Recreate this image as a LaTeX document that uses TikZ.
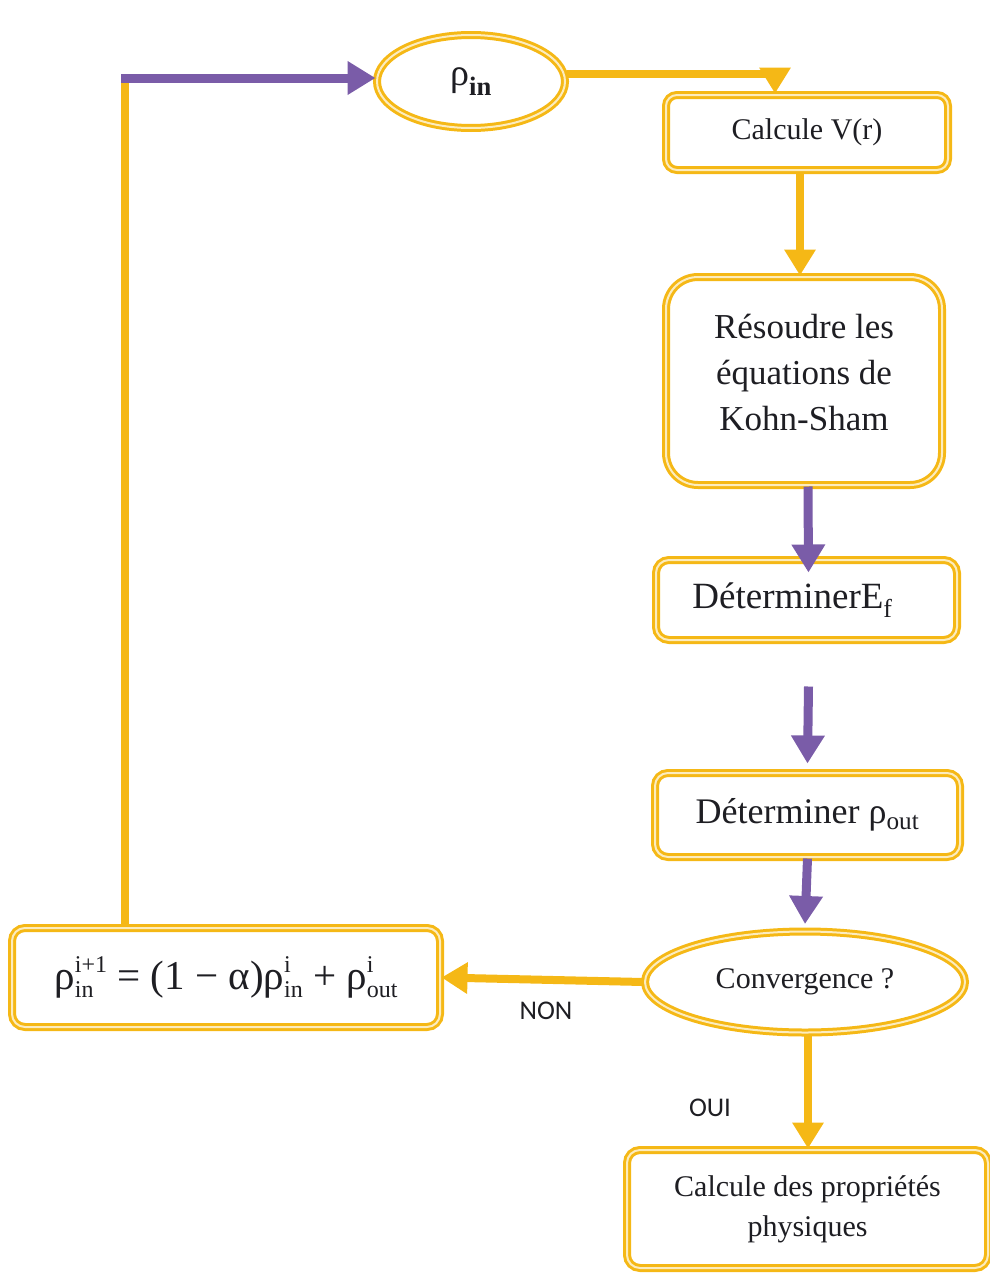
\documentclass[tikz,border=0pt]{standalone}
\usepackage{fontspec}
\setmainfont{Liberation Serif}
\newfontfamily\labelfont{Carlito}
\usetikzlibrary{arrows.meta,shapes.geometric,calc}

\definecolor{gold}{RGB}{245,184,22}
\definecolor{pale}{RGB}{252,236,190}
\definecolor{violet}{RGB}{122,92,168}
\definecolor{ink}{RGB}{30,30,35}

% superscript stacked over subscript, set in text fonts
\newcommand{\ssb}[2]{\begingroup
  \setbox0\hbox{\raisebox{17pt}{\fontsize{24}{24}\selectfont #1}}%
  \setbox2\hbox{\raisebox{-8pt}{\fontsize{24}{24}\selectfont #2}}%
  \ifdim\wd0>\wd2 \rlap{\box2}\box0\else\rlap{\box0}\box2\fi\endgroup}

\tikzset{
  box/.style={draw=gold, line width=3pt, double=pale, double distance=2pt,
    rounded corners=13pt, fill=white, align=center, text=ink, inner sep=0pt},
  oval/.style={box, ellipse},
  gline/.style={draw=gold, line width=8pt},
  garrow/.style={gline, -{Triangle[length=26pt,width=30pt]}},
  parrow/.style={draw=violet, line width=9pt, -{Triangle[length=28pt,width=32pt]}},
  tag/.style={font=\labelfont\fontsize{27}{30}\selectfont, text=ink}
}

\begin{document}
\begin{tikzpicture}[x=1pt,y=-1pt]
  \useasboundingbox (0,0) rectangle (990,1277);

  % steps of the self-consistent cycle
  \node[oval, minimum width=188pt, minimum height=93pt, font=\fontsize{38}{44}\selectfont]
    (rin) at (471,81.5) {ρ\textsubscript{\bfseries in}};
  \node[box, minimum width=282pt, minimum height=75pt, rounded corners=11pt,
        font=\fontsize{30}{34}\selectfont]
    (vr) at (807,132.5) {Calcule V(r)};
  \node[box, minimum width=276pt, minimum height=208pt, rounded corners=32pt,
        font=\fontsize{35}{46}\selectfont]
    (ks) at (804,381) {Résoudre les\\équations de\\Kohn-Sham\\[-28pt]};
  \node[box, minimum width=301pt, minimum height=80pt, font=\fontsize{37}{40}\selectfont]
    (ef) at (806.5,600) {DéterminerE\textsubscript{f}\hspace*{28pt}};
  \node[box, minimum width=305pt, minimum height=84pt, font=\fontsize{36}{40}\selectfont]
    (rout) at (807.5,815) {Déterminer ρ\textsubscript{out}};
  \node[oval, minimum width=320pt, minimum height=101pt, font=\fontsize{30}{34}\selectfont]
    (conv) at (805,982) {Convergence ?};
  \node[box, minimum width=428pt, minimum height=99pt, font=\fontsize{41}{44}\selectfont]
    (mix) at (226,977.5) {ρ\ssb{i+1}{in} = (1 − α)ρ\ssb{i}{in} + ρ\ssb{i}{out}};
  \node[box, minimum width=361pt, minimum height=118pt, font=\fontsize{30}{40}\selectfont]
    (prop) at (807.5,1209) {Calcule des propriétés\\physiques};

  % connectors
  \draw[garrow] ([yshift=8pt]rin.east) -| ([xshift=-32pt]vr.north);
  \draw[garrow] ([xshift=-7pt]vr.south) -- ([xshift=-7pt]vr.south |- ks.north);
  \draw[parrow] ([xshift=4pt]ks.south) -- ([xshift=2pt,yshift=-14pt]ef.north);
  \draw[parrow] ([xshift=2pt,yshift=-45pt]ef.south) -- ([yshift=8pt]rout.north);
  \draw[parrow] (rout.south) -- ([yshift=6pt]conv.north);
  \draw[garrow] (conv.west) -- (mix.east);
  \draw[garrow] ([xshift=3pt]conv.south) -- ([xshift=3pt]conv.south |- prop.north);

  % feedback loop back to the input density
  \coordinate (turn) at (125,78);
  \draw[gline] (mix.north -| turn) -- ([yshift=4pt]turn);
  \draw[parrow] ([xshift=-4pt]turn) -- (rin.west |- turn);

  % branch labels
  \node[tag] (non) at (546,1011) {NON};
  \node[tag] (oui) at (710,1108) {OUI};
\end{tikzpicture}
\end{document}
